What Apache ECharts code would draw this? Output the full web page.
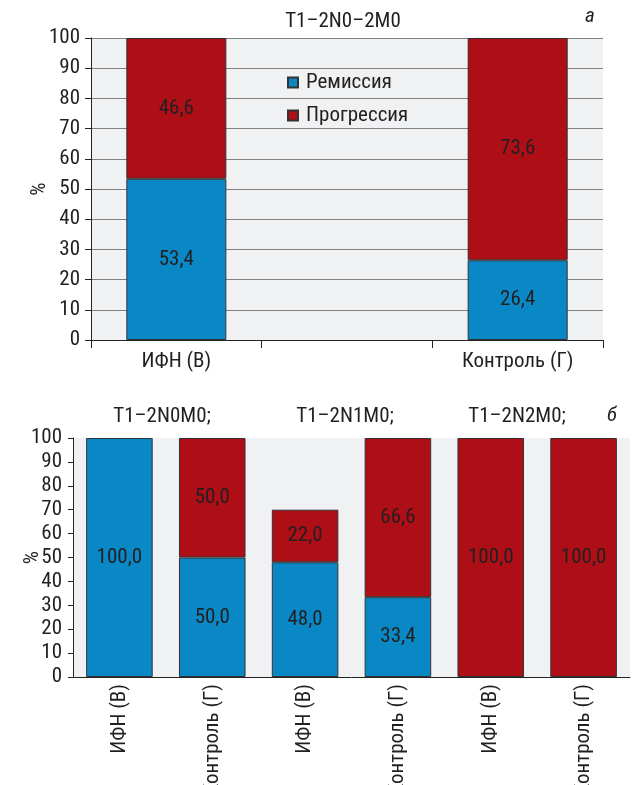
<!DOCTYPE html>
<html>
<head>
<meta charset="utf-8">
<script src="https://cdn.jsdelivr.net/npm/echarts@6/dist/echarts.min.js"></script>
<style>
  html, body { margin: 0; padding: 0; background: #ffffff; }
  #chart { width: 632px; height: 785px; }
</style>
</head>
<body>
<div id="chart"></div>
<script>
// Panel а: T1–2N0–2M0
const topCategories = ['ИФН (В)', '', 'Контроль (Г)'];
const topRemission = [53.4, null, 26.4];
const topProgression = [46.6, null, 73.6];

// Panel б: by N stage
const bottomCategories = ['ИФН (В)', 'Контроль (Г)', 'ИФН (В)', 'Контроль (Г)', 'ИФН (В)', 'Контроль (Г)'];
const bottomRemission = [100, 50, 48, 33.4, 0, 0];
const bottomProgression = [0, 50, 22, 66.6, 100, 100];
const bottomGroups = ['T1–2N0M0;', 'T1–2N1M0;', 'T1–2N2M0;'];

const yTicks = [0, 10, 20, 30, 40, 50, 60, 70, 80, 90, 100];
const seriesNames = ['Ремиссия', 'Прогрессия'];

const FONT = "'Roboto Condensed', 'Liberation Sans Narrow', Roboto, sans-serif";
const FS = 21;
const TEXT = '#231f20';
const BLUE = '#0a88c6';
const RED = '#ae0f16';
const EDGE = '#333333';

const fmt = v => (v === null || v === undefined || v === '-') ? '' : Number(v).toFixed(1).replace('.', ',');
const prep = arr => arr.map(v => (v === null || v === 0) ? '-' : v);

const labelStyle = {
  show: true,
  position: 'inside',
  color: TEXT,
  fontFamily: FONT,
  fontSize: FS,
  formatter: p => fmt(p.value)
};

const yAxisBase = (gridIndex, tickLen, nameGap) => ({
  type: 'value',
  gridIndex,
  min: yTicks[0],
  max: yTicks[yTicks.length - 1],
  interval: yTicks[1] - yTicks[0],
  name: '%',
  nameLocation: 'middle',
  nameRotate: 90,
  nameGap,
  nameMoveOverlap: false,
  nameTextStyle: { color: TEXT, fontFamily: FONT, fontSize: FS },
  axisLine: { show: true, lineStyle: { color: '#222', width: 1 } },
  axisTick: { show: true, length: tickLen, lineStyle: { color: '#222' } },
  axisLabel: { color: TEXT, fontFamily: FONT, fontSize: FS, margin: 11 }
});

const headText = (text, x, y, italic) => ({
  type: 'text', x, y,
  style: {
    text, fill: TEXT,
    font: (italic ? 'italic ' : '') + FS + 'px ' + FONT,
    textAlign: 'center', textVerticalAlign: 'middle'
  }
});

const chart = echarts.init(document.getElementById('chart'));
chart.setOption({
  backgroundColor: '#ffffff',
  animation: false,
  graphic: [
    headText('T1–2N0–2M0', 343, 22),
    headText('а', 590, 17, true),
    headText(bottomGroups[0], 162, 417),
    headText(bottomGroups[1], 345, 417),
    headText(bottomGroups[2], 517, 417),
    headText('б', 612, 416, true)
  ],
  legend: {
    data: seriesNames,
    orient: 'vertical',
    left: 282,
    top: 67,
    itemWidth: 10,
    itemHeight: 10,
    itemGap: 12,
    icon: 'rect',
    textStyle: { color: TEXT, fontFamily: FONT, fontSize: FS, padding: [0, 0, 0, 3] }
  },
  grid: [
    { left: 91, top: 38, right: 29, bottom: 445, show: true, backgroundColor: '#f0f1f3', borderWidth: 0, outerBoundsMode: 'none' },
    { left: 73, top: 438, right: 2, bottom: 108, show: true, backgroundColor: '#f0f1f3', borderWidth: 0, outerBoundsMode: 'none' }
  ],
  xAxis: [
    {
      type: 'category', gridIndex: 0, data: topCategories,
      axisLine: { show: true, lineStyle: { color: '#222' } },
      axisTick: { show: true, length: 8, lineStyle: { color: '#222' } },
      axisLabel: { color: TEXT, fontFamily: FONT, fontSize: FS, margin: 11 },
      splitLine: { show: false }
    },
    {
      type: 'category', gridIndex: 1, data: bottomCategories,
      axisLine: { show: true, lineStyle: { color: '#222' } },
      axisTick: { show: false },
      axisLabel: { color: TEXT, fontFamily: FONT, fontSize: FS, margin: 7, rotate: 90, interval: 0, padding: [0, 0, 10, 0] },
      splitLine: { show: false }
    }
  ],
  yAxis: [
    Object.assign(yAxisBase(0, 6, 41), { splitLine: { show: true, lineStyle: { color: '#808080', width: 1 } } }),
    Object.assign(yAxisBase(1, 5, 30), { splitLine: { show: false } })
  ],
  series: [
    {
      name: seriesNames[0], type: 'bar', stack: 'a', xAxisIndex: 0, yAxisIndex: 0,
      data: prep(topRemission), barWidth: '58.6%',
      itemStyle: { color: BLUE, borderColor: EDGE, borderWidth: 1 },
      label: labelStyle
    },
    {
      name: seriesNames[1], type: 'bar', stack: 'a', xAxisIndex: 0, yAxisIndex: 0,
      data: prep(topProgression), barWidth: '58.6%',
      itemStyle: { color: RED, borderColor: EDGE, borderWidth: 1 },
      label: labelStyle
    },
    {
      name: seriesNames[0], type: 'bar', stack: 'b', xAxisIndex: 1, yAxisIndex: 1,
      data: prep(bottomRemission), barWidth: '71.7%',
      itemStyle: { color: BLUE, borderColor: EDGE, borderWidth: 1 },
      label: labelStyle
    },
    {
      name: seriesNames[1], type: 'bar', stack: 'b', xAxisIndex: 1, yAxisIndex: 1,
      data: prep(bottomProgression), barWidth: '71.7%',
      itemStyle: { color: RED, borderColor: EDGE, borderWidth: 1 },
      label: labelStyle
    }
  ]
});
</script>
</body>
</html>
